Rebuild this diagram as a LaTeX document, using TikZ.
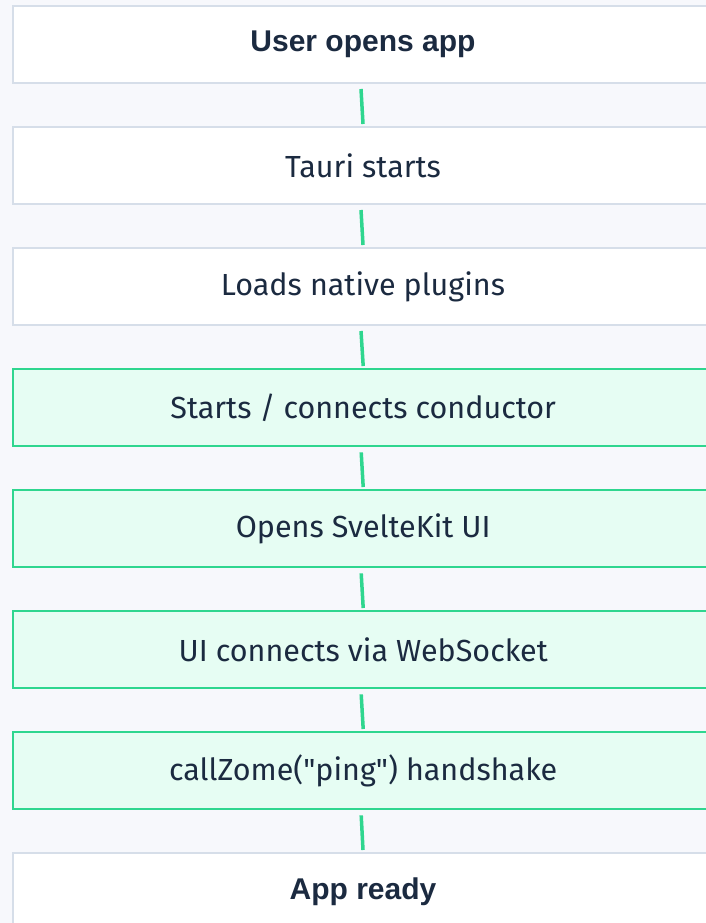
\documentclass[tikz,border=0pt]{standalone}
\usepackage{fontspec}
\setmainfont{Fira Sans}[Ligatures=TeXOff]
\newfontfamily\boldfam{Liberation Sans}
\usetikzlibrary{calc}
\definecolor{bg}{HTML}{F7F8FC}
\definecolor{greyline}{HTML}{D6DEE9}
\definecolor{greenfill}{HTML}{E6FDF3}
\definecolor{greenline}{HTML}{2FD68F}
\definecolor{txt}{HTML}{1B2A40}
\begin{document}
\begin{tikzpicture}[x=1pt,y=-1pt,
  plainbox/.style={draw=greyline, fill=white, line width=2pt, minimum width=700pt, minimum height=77pt, inner sep=0pt, anchor=north west, text=txt, font=\fontsize{30.5}{34}\selectfont},
  greenbox/.style={plainbox, draw=greenline, fill=greenfill, line width=2.4pt},
  boldtext/.style={font=\fontsize{30}{34}\selectfont\boldfam\bfseries},
  link/.style={draw=greenline, line width=3.5pt}]
\fill[bg] (0,0) rectangle (706,923);
\useasboundingbox (0,0) rectangle (706,923);
\node[plainbox, boldtext] (b1) at (12,5) {User opens app};
\node[plainbox] (b2) at (12,126) {Tauri starts};
\node[plainbox] (b3) at (12,247) {Loads native plugins};
\node[greenbox] (b4) at (12,368) {Starts / connects conductor};
\node[greenbox] (b5) at (12,489) {Opens SvelteKit UI};
\node[greenbox] (b6) at (12,610) {UI connects via WebSocket};
\node[greenbox] (b7) at (12,731) {callZome("ping") handshake};
\node[plainbox, boldtext] (b8) at (12,852) {App ready};
\foreach \a/\b in {b1/b2,b2/b3,b3/b4,b4/b5,b5/b6,b6/b7,b7/b8}{
  \draw[link] ($(\a.south)+(-2,5)$) -- ($(\b.north)+(0,-2)$);
}
\end{tikzpicture}
\end{document}
